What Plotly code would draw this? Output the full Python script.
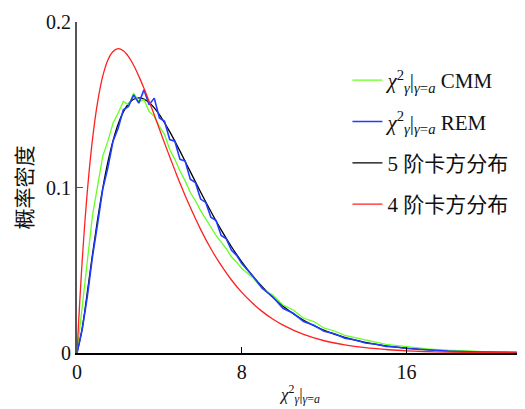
import plotly.graph_objects as go

# ---- data ----
x_smooth = [0, 0.25, 0.5, 0.75, 1, 1.25, 1.5, 1.75, 2, 2.25, 2.5, 2.75, 3, 3.25, 3.5, 3.75, 4, 4.25, 4.5,
            4.75, 5, 5.5, 6, 6.5, 7, 7.5, 8, 8.5, 9, 9.5, 10, 11, 12, 13, 14, 15, 16, 18, 20, 22]
chi2_4 = [0, 0.0552, 0.0974, 0.1289, 0.1516, 0.1673, 0.1771, 0.1822, 0.1839, 0.1826, 0.1791, 0.1739,
          0.1673, 0.1600, 0.1521, 0.1439, 0.1353, 0.1268, 0.1186, 0.1105, 0.1026, 0.0880, 0.0747,
          0.0630, 0.0529, 0.0441, 0.0366, 0.0303, 0.0250, 0.0205, 0.0168, 0.0112, 0.0074, 0.0049,
          0.0032, 0.0021, 0.0013, 0.00055, 0.00023, 0.00009]
chi2_5 = [0, 0.0147, 0.0366, 0.0594, 0.0807, 0.0995, 0.1154, 0.1283, 0.1384, 0.1457, 0.1506, 0.1533,
          0.1542, 0.1534, 0.1513, 0.1481, 0.1440, 0.1391, 0.1338, 0.1280, 0.1220, 0.1096, 0.0973,
          0.0855, 0.0744, 0.0642, 0.0551, 0.0470, 0.0399, 0.0337, 0.0283, 0.0198, 0.0137, 0.0094,
          0.0064, 0.0043, 0.0029, 0.00125, 0.00054, 0.00023]

x_sim = [0, 0.25, 0.5, 0.75, 1, 1.25, 1.5, 1.75, 2, 2.25, 2.5, 2.75, 3, 3.25, 3.5, 3.75, 4, 4.25, 4.5,
         4.75, 5, 5.25, 5.5, 5.75, 6, 6.25, 6.5, 6.75, 7, 7.25, 7.5, 7.75, 8, 8.5, 9, 9.5, 10, 10.5,
         11, 11.5, 12, 12.5, 13, 13.5, 14, 14.5, 15, 15.5, 16, 17, 18, 19, 20, 21, 22]
cmm = [0, 0.029, 0.057, 0.083, 0.101, 0.119, 0.128, 0.139, 0.145, 0.152, 0.150, 0.157, 0.152, 0.153,
       0.146, 0.143, 0.137, 0.132, 0.123, 0.117, 0.110, 0.104, 0.097, 0.092, 0.086, 0.081, 0.076,
       0.071, 0.067, 0.063, 0.058, 0.055, 0.051, 0.046, 0.039, 0.035, 0.029, 0.026, 0.021, 0.019,
       0.0150, 0.0133, 0.0106, 0.0092, 0.0075, 0.0065, 0.0052, 0.0046, 0.0036, 0.0025, 0.0017,
       0.0011, 0.0007, 0.0004, 0.0003]
rem = [0, 0.014, 0.034, 0.058, 0.078, 0.099, 0.112, 0.128, 0.136, 0.147, 0.149, 0.156, 0.151, 0.159,
       0.150, 0.154, 0.142, 0.140, 0.129, 0.128, 0.117, 0.116, 0.105, 0.103, 0.093, 0.091, 0.082,
       0.080, 0.071, 0.069, 0.062, 0.059, 0.054, 0.047, 0.039, 0.034, 0.027, 0.0240, 0.0190,
       0.0168, 0.0132, 0.0116, 0.0090, 0.0079, 0.0060, 0.0053, 0.0040, 0.0036, 0.0027, 0.0019,
       0.0012, 0.0008, 0.0005, 0.0003, 0.0002]

x_ticks = [0, 8, 16]
y_ticks = [0, 0.1, 0.2]
y_tick_text = ["0", "0.1", "0.2"]

CHI = "<i>χ</i><sup>2</sup><sub><i>γ</i></sub>|<sub><i>γ</i>=<i>a</i></sub>"
names = [CHI + " CMM", CHI + " REM", "5 阶卡方分布", "4 阶卡方分布"]
colors = ["#66ff22", "#1f3cff", "#000000", "#ff2020"]
ranks = [1, 2, 3, 4]

FONT = "Liberation Serif, Times New Roman, Noto Sans CJK SC, serif"

series = [(x_sim, cmm), (x_sim, rem), (x_smooth, chi2_5), (x_smooth, chi2_4)]
draw_order = [2, 0, 1, 3]   # black underneath, blue over it, red on top

fig = go.Figure()
for i in draw_order:
    xs, ys = series[i]
    fig.add_trace(go.Scatter(
        x=xs, y=ys, mode="lines", name=names[i], legendgroup=f"g{i}", legendrank=ranks[i],
        line=dict(color=colors[i], width=1.6 if i == 1 else 1.3,
                  shape="spline" if i >= 2 else "linear"),
    ))

# page body has an 8px default margin -> figure is 8px smaller and shifted
fig.update_layout(
    width=517, height=401,
    margin=dict(l=69, r=1, t=14, b=56),
    paper_bgcolor="white", plot_bgcolor="white",
    font=dict(family=FONT, size=20, color="#111"),
    legend=dict(x=0.605, y=0.885, xanchor="left", yanchor="top",
                bgcolor="rgba(0,0,0,0)", tracegroupgap=11,
                font=dict(family=FONT, size=21, color="#111")),
    xaxis=dict(range=[0, 21.7], tickvals=x_ticks, ticktext=[str(v) for v in x_ticks],
               showgrid=False, zeroline=False, showline=True, linecolor="#000", linewidth=1.5,
               ticks="inside", ticklen=6, tickcolor="#000", tickwidth=1.2,
               title=dict(text=CHI, font=dict(family=FONT, size=17), standoff=6)),
    yaxis=dict(range=[0, 0.2], tickvals=y_ticks, ticktext=y_tick_text,
               showgrid=False, zeroline=False, showline=True, linecolor="#555", linewidth=2,
               ticks="inside", ticklen=6, tickcolor="#555", tickwidth=1.2,
               title=dict(text="概率密度", font=dict(family="Noto Sans CJK SC", size=21), standoff=16)),
)

fig.write_html("out.html")
